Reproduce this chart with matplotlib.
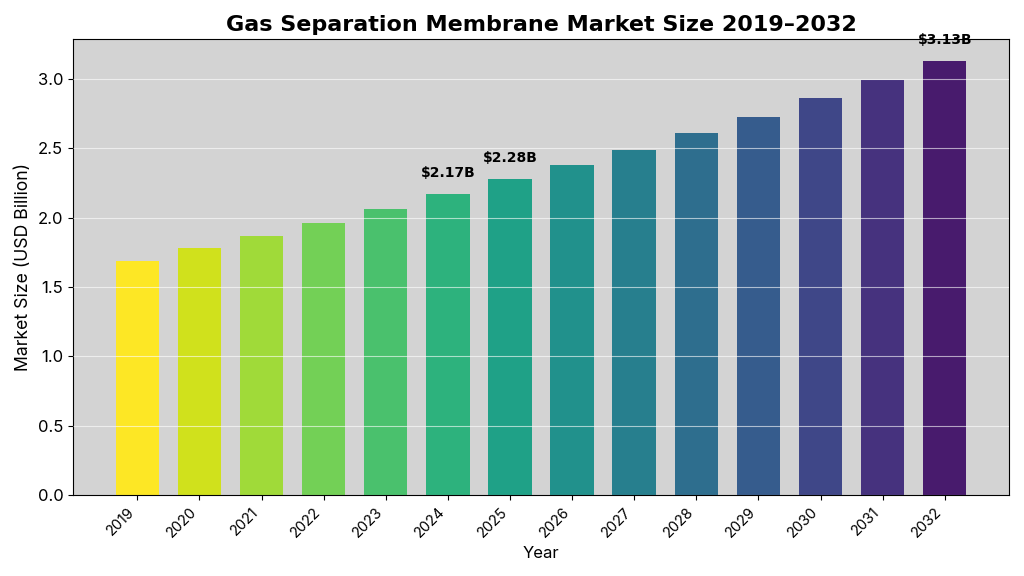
import numpy as np
import matplotlib
matplotlib.use('Agg')
import matplotlib.pyplot as plt

years = ['2019', '2020', '2021', '2022', '2023', '2024', '2025',
         '2026', '2027', '2028', '2029', '2030', '2031', '2032']
market_size = [1.69, 1.78, 1.87, 1.96, 2.06, 2.17, 2.28,
               2.38, 2.49, 2.61, 2.73, 2.86, 2.99, 3.13]
labelled_years = ['2024', '2025', '2032']

plt.rcParams['font.family'] = ['Inter', 'DejaVu Sans']

fig, ax = plt.subplots(figsize=(10.24, 5.76), dpi=100)
ax.set_facecolor('lightgray')

colors = plt.cm.viridis(np.linspace(1, 0, 15))[:len(years)]
x = np.arange(len(years))
ax.bar(x, market_size, width=0.7, color=colors, zorder=2)

for i, (yr, v) in enumerate(zip(years, market_size)):
    if yr in labelled_years:
        ax.text(i, v + 0.15, f'${v:.2f}B', ha='center', va='center',
                fontsize=10, fontweight='bold', family='DejaVu Sans', zorder=4)

ax.set_ylim(0, max(market_size) * 1.05)
ax.set_xticks(x)
ax.set_xticklabels(years, rotation=45, ha='right', fontsize=10.5)
ax.tick_params(axis='y', labelsize=12)
ax.grid(axis='y', color='white', alpha=0.6, linewidth=0.8, zorder=3)
ax.set_axisbelow(False)
ax.set_xlabel('Year', fontsize=12)
ax.set_ylabel('Market Size (USD Billion)', fontsize=12.7)
ax.set_title('Gas Separation Membrane Market Size 2019\u20132032', fontsize=16,
             fontweight='bold', family='DejaVu Sans')

plt.tight_layout()
plt.savefig('out.png')
